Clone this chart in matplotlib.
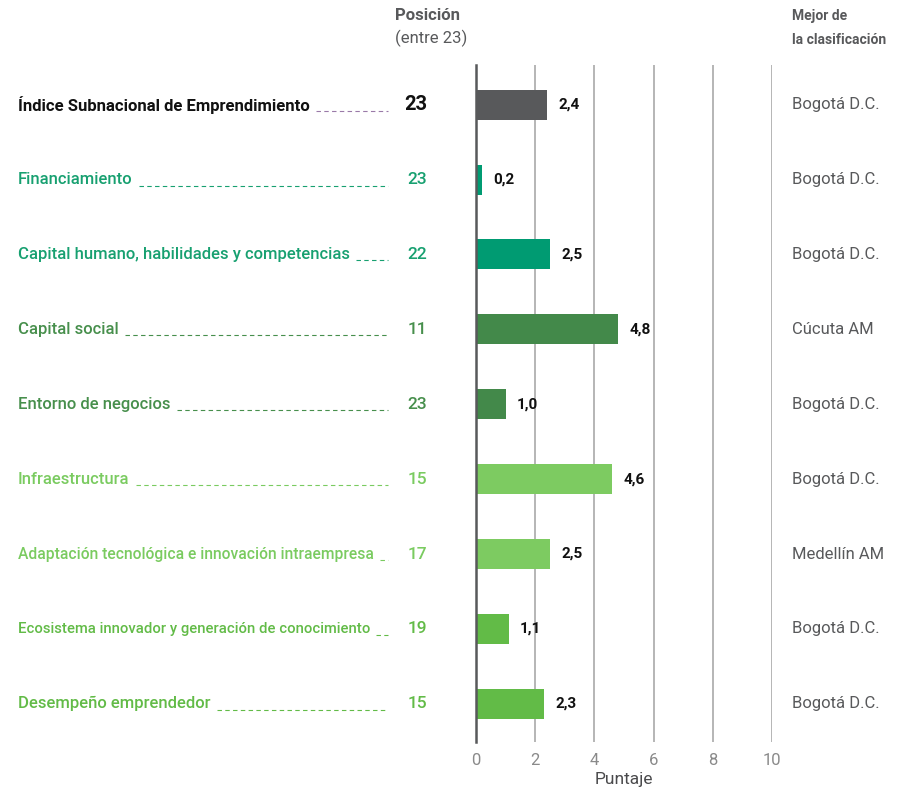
import matplotlib.pyplot as plt

categories = [
    "Índice Subnacional de Emprendimiento",
    "Financiamiento",
    "Capital humano, habilidades y competencias",
    "Capital social",
    "Entorno de negocios",
    "Infraestructura",
    "Adaptación tecnológica e innovación intraempresa",
    "Ecosistema innovador y generación de conocimiento",
    "Desempeño emprendedor",
]
scores = [2.4, 0.2, 2.5, 4.8, 1.0, 4.6, 2.5, 1.1, 2.3]
score_labels = ["2,4", "0,2", "2,5", "4,8", "1,0", "4,6", "2,5", "1,1", "2,3"]
positions = [23, 23, 22, 11, 23, 15, 17, 19, 15]
best = [
    "Bogotá D.C.", "Bogotá D.C.", "Bogotá D.C.", "Cúcuta AM", "Bogotá D.C.",
    "Bogotá D.C.", "Medellín AM", "Bogotá D.C.", "Bogotá D.C.",
]
x_ticks = [0, 2, 4, 6, 8, 10]

bar_colors = ["#58595b", "#009b72", "#009b72", "#43894a", "#43894a",
              "#7dcb61", "#7dcb61", "#62bb47", "#62bb47"]
text_colors = ["#111111", "#17a070", "#17a070", "#478f4c", "#478f4c",
               "#7acb60", "#7acb60", "#62bb47", "#62bb47"]

plt.rcParams["font.family"] = ["Roboto", "DejaVu Sans"]

W, H = 901, 795
fig = plt.figure(figsize=(W / 100, H / 100), dpi=100)

def fx(px):
    return px / W

def fy(py):
    return 1 - py / H

ax = fig.add_axes([fx(476), fy(742), fx(772) - fx(476), fy(65) - fy(742)])
ypos = list(range(len(categories)))
ax.barh(ypos, scores, height=0.4, color=bar_colors, zorder=3)
ax.set_xlim(0, 10)
ax.set_ylim(8.51, -0.53)
for s in ["top", "right", "bottom"]:
    ax.spines[s].set_visible(False)
ax.spines["left"].set_color("#58595b")
ax.spines["left"].set_linewidth(1.8)
ax.spines["left"].set_zorder(4)
ax.set_yticks([])
ax.set_xticks(x_ticks)
ax.set_xticklabels([str(t) for t in x_ticks], color="#8a8a8a", fontsize=12)
ax.tick_params(axis="x", length=0, pad=8)
for t in x_ticks[1:]:
    ax.axvline(t, color="#b5b5b5", lw=1.4, zorder=1)
ax.set_xlabel("Puntaje", fontsize=12.5, color="#4a4a4c", labelpad=3)

for i, (v, lab) in enumerate(zip(scores, score_labels)):
    ax.annotate(lab, (v, i), xytext=(8, 0), textcoords="offset points",
                va="center", ha="left", fontsize=11, fontweight="bold",
                color="#111111")

# category labels with dotted leaders and rank on the left
renderer = fig.canvas.get_renderer()
label_x, leader_end, rank_x = 18, 388, 427
for i, cat in enumerate(categories):
    yc = ax.transData.transform((0, i))[1]
    ypx = H - yc
    weight = "bold" if i == 0 else "medium"
    size = 12
    txt = fig.text(fx(label_x), fy(ypx), cat, ha="left", va="center",
                   fontsize=size, color=text_colors[i], fontweight=weight)
    bb = txt.get_window_extent(renderer)
    while bb.x1 > leader_end - 10:
        size -= 0.25
        txt.set_fontsize(size)
        bb = txt.get_window_extent(renderer)
    start = bb.x1 + 6
    if start < leader_end - 2:
        fig.add_artist(plt.Line2D([fx(start), fx(leader_end)],
                                  [fy(ypx + 6), fy(ypx + 6)],
                                  color=text_colors[i] if i else "#9a7aa8",
                                  lw=0.8, linestyle=(0, (4, 3))))
    fig.text(fx(rank_x), fy(ypx), str(positions[i]), ha="right", va="center",
             fontsize=14.5 if i == 0 else 12.5, color=text_colors[i],
             fontweight="bold" if i == 0 else "medium")
    fig.text(fx(792), fy(ypx), best[i], ha="left", va="center",
             fontsize=12, color="#58595b")

# column headers
fig.text(fx(428), fy(16), "Posición", ha="center", va="center",
         fontsize=12, fontweight="bold", color="#58595b")
fig.text(fx(431), fy(38), "(entre 23)", ha="center", va="center",
         fontsize=12, color="#58595b")
fig.text(fx(792), fy(16), "Mejor de", ha="left", va="center",
         fontsize=10, fontweight="bold", color="#58595b")
fig.text(fx(792), fy(40), "la clasificación", ha="left", va="center",
         fontsize=10, fontweight="bold", color="#58595b")

fig.savefig("out.png", dpi=100)
